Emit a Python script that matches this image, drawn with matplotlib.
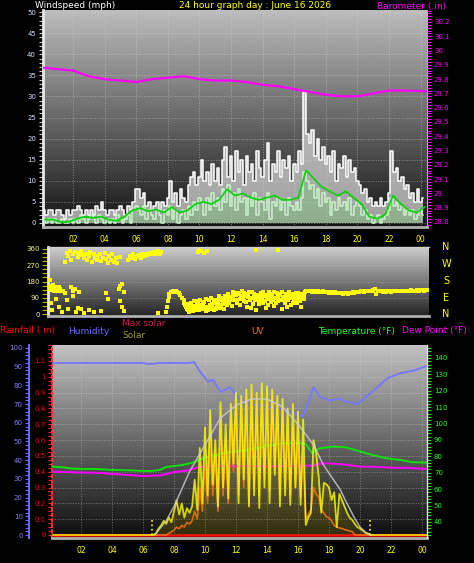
import numpy as np
import matplotlib
matplotlib.use("Agg")
import matplotlib.pyplot as plt
from matplotlib.ticker import MultipleLocator, FuncFormatter

plt.rcParams['font.family'] = ['DejaVu Sans']

W, H = 474, 563

# ---- data: wind (10 minute samples) ----
wind_t = np.arange(1, 146) / 6.0
gust = [3, 2, 3, 3, 2, 3,
        3, 2, 1, 3, 2, 3,
        3, 4, 3, 2, 3, 2,
        3, 2, 4, 3, 5, 3,
        2, 3, 3, 2, 3, 4,
        3, 2, 4, 3, 5, 8,
        8, 6, 7, 4, 5, 3,
        4, 5, 3, 5, 4, 6,
        10, 5, 7, 4, 8, 6,
        5, 9, 11, 12, 9, 11,
        15, 10, 12, 9, 14, 10,
        13, 9, 15, 18, 11, 16,
        10, 17, 12, 15, 9, 16,
        12, 14, 10, 17, 13, 11,
        15, 19, 10, 14, 12, 17,
        11, 15, 13, 16, 10, 14,
        12, 17, 14, 31, 21, 19,
        22, 16, 20, 15, 18, 14,
        16, 12, 17, 10, 14, 13,
        16, 11, 15, 12, 13, 10,
        9, 7, 8, 5, 6, 4,
        5, 4, 6, 4, 5, 7,
        17, 12, 13, 10, 11, 8,
        9, 6, 7, 5, 8, 5,
        6]
speed = [1, 0, 1, 0, 1, 0,
         0, 1, 0, 0, 1, 0,
         1, 0, 2, 1, 0, 1,
         2, 1, 0, 2, 1, 0,
         1, 0, 1, 0, 2, 1,
         0, 1, 2, 0, 3, 4,
         3, 2, 4, 1, 3, 2,
         1, 3, 2, 0, 3, 2,
         4, 1, 3, 0, 2, 3,
         1, 4, 2, 5, 3, 6,
         5, 2, 6, 3, 7, 4,
         6, 3, 8, 5, 9, 4,
         7, 3, 8, 5, 6, 2,
         6, 4, 7, 2, 6, 5,
         3, 7, 1, 5, 4, 6,
         3, 5, 2, 6, 4, 3,
         5, 3, 6, 12, 10, 8,
         9, 6, 8, 4, 7, 5,
         6, 2, 5, 3, 6, 4,
         5, 3, 6, 2, 4, 5,
         4, 2, 3, 1, 2, 0,
         1, 2, 0, 1, 2, 3,
         6, 4, 5, 3, 4, 2,
         3, 2, 3, 1, 2, 3,
         2]
avg_t = np.arange(0.25, 24.26, 0.5)
avg = [0.8, 0.8, 0.2, 0.3, 1.0, 1.5, 1.2, 1.5, 0.8, 0.5,
       1.5, 3.0, 3.5, 2.8, 3.2, 2.5, 3.8, 2.5, 3.0, 4.5,
       5.0, 4.5, 5.5, 8.0, 6.5, 7.0, 6.0, 5.5, 6.0, 6.5,
       5.5, 5.5, 6.0, 12.5, 10.5, 8.5, 7.5, 6.5, 7.5, 6.0,
       4.5, 1.5, 1.0, 2.0, 6.5, 4.5, 3.0, 2.5, 3.8]

# ---- barometer ----
baro_t = [0.1, 1, 2, 3, 4, 5, 6, 7, 8, 9, 10, 11, 12, 13, 14, 15, 16,
          17, 18, 19, 20, 21, 22, 23, 24.4]
baro = [29.88, 29.87, 29.86, 29.82, 29.80, 29.79, 29.78, 29.80, 29.81,
        29.82, 29.80, 29.79, 29.79, 29.78, 29.76, 29.75, 29.73, 29.71,
        29.69, 29.68, 29.68, 29.70, 29.72, 29.72, 29.715]

# ---- wind direction ----
dir_early = [(0.5, 150), (0.55, 140), (0.6, 155), (0.65, 135), (0.7, 148), (0.75, 160),
             (0.8, 130), (0.85, 145), (0.9, 150), (0.95, 138), (1.0, 142), (1.05, 128),
             (1.1, 150), (1.15, 135), (1.2, 140), (1.3, 125), (1.4, 130), (1.5, 118),
             (0.55, 190), (0.6, 60), (0.7, 20), (0.9, 85), (1.1, 40), (1.3, 10),
             (1.6, 75), (1.7, 25), (1.9, 150), (2.0, 130), (2.1, 140), (2.2, 10),
             (2.3, 35), (2.0, 100), (2.4, 120), (2.5, 30), (2.7, 5), (3.0, 20),
             (3.3, 10), (4.1, 115), (4.2, 85), (4.9, 140), (5.0, 155), (5.1, 165),
             (5.2, 120), (5.0, 70), (5.1, 40), (5.2, 15), (7.4, 5), (3.8, 15)]
dir_north = [(1.5, 290), (1.6, 340), (1.7, 320), (1.8, 350), (1.9, 300), (2.0, 330),
             (2.1, 345), (2.3, 315), (2.4, 340), (2.5, 350), (2.6, 325), (2.7, 310),
             (2.8, 335), (2.9, 300), (3.0, 320), (3.1, 345), (3.2, 290), (3.3, 330),
             (3.4, 310), (3.5, 300), (3.6, 320), (3.7, 335), (3.8, 295), (3.9, 310),
             (4.0, 340), (4.1, 305), (4.2, 285), (4.3, 320), (4.4, 300), (4.5, 330),
             (4.6, 290), (4.7, 310), (4.8, 285), (5.0, 315), (5.5, 300), (5.6, 320),
             (5.7, 310), (5.8, 330), (5.9, 305), (6.0, 315), (6.1, 320), (6.2, 325),
             (6.3, 310), (6.4, 330), (6.5, 320), (6.6, 335), (6.7, 325), (6.8, 330),
             (6.9, 340), (7.0, 330), (7.1, 345), (7.2, 335), (7.3, 340), (7.4, 350),
             (7.5, 335), (7.6, 345),
             (9.9, 345), (10.0, 355), (10.1, 350), (10.3, 340), (10.5, 348),
             (13.6, 352), (15.0, 352)]
dir_arc = [(7.9, 10), (7.95, 40), (8.0, 70), (8.05, 95), (8.1, 110), (8.2, 120),
           (8.3, 125), (8.4, 122), (8.5, 128), (8.6, 120), (8.7, 118), (8.8, 105),
           (8.9, 90), (9.0, 75), (9.05, 60), (9.1, 50), (9.15, 40), (9.2, 30),
           (9.25, 55), (9.3, 20)]
dir_day_t1 = np.arange(9.3, 16.75, 0.1)
dir_day_1 = [40, 25, 60, 15, 45, 30, 70, 20, 50, 35,
             65, 15, 40, 75, 30, 55, 20, 60, 45, 80,
             35, 90, 55, 100, 70, 110, 60, 95, 120, 75,
             105, 60, 115, 85, 125, 70, 100, 40, 110, 80,
             120, 55, 95, 20, 105, 75, 115, 60, 100, 35,
             85, 120, 65, 100, 45, 90, 115, 70, 105, 30,
             95, 60, 110, 80, 120, 50, 100, 75, 115, 60,
             95, 40, 105, 85, 120]
dir_day_t2 = np.arange(9.35, 16.8, 0.1)
dir_day_2 = [10, 50, 30, 70, 20, 55, 35, 80, 25, 60,
             40, 85, 20, 50, 90, 35, 75, 25, 65, 100,
             50, 75, 30, 85, 50, 95, 80, 45, 100, 115,
             80, 110, 50, 100, 90, 115, 65, 95, 120, 35,
             90, 110, 75, 100, 55, 95, 85, 120, 70, 105,
             50, 90, 110, 75, 120, 60, 95, 110, 80, 120,
             75, 95, 40, 105, 90, 110, 60, 100, 85, 115,
             70, 110, 90, 100, 125]
dir_eve_t = np.arange(16.8, 24.45, 0.1)
dir_eve = [125, 128, 126, 124, 127, 125, 122, 126, 124, 121,
           125, 123, 120, 122, 118, 121, 119, 116, 120, 117,
           114, 118, 115, 113, 117, 114, 112, 116, 118, 121,
           119, 122, 124, 121, 125, 127, 124, 126, 128, 125,
           129, 127, 132, 140, 110, 128, 125, 127, 124, 126,
           123, 125, 127, 124, 126, 128, 125, 127, 129, 126,
           128, 130, 127, 129, 126, 128, 131, 129, 127, 130,
           132, 129, 131, 133, 130, 132, 134]

# ---- bottom panel ----
rain_t = [0.13, 24.32]
rain = [0.0, 0.0]

hum_t = [0.13, 1, 2, 3, 4, 5, 6, 6.3, 6.6, 7, 8, 9, 9.3, 9.7, 10.2, 10.5, 11.0,
         11.6, 12.3, 13.0, 14.1, 15.2, 15.8, 16.3, 16.6, 17.0, 17.4, 18.0, 18.7,
         19.0, 19.8, 20.1, 20.9, 21.8, 22.6, 23.5, 24.32]
hum = [92, 92, 92, 92, 92, 92, 92, 91.5, 91.5, 92, 92, 92, 92.5, 87, 82, 83, 76.5,
       79, 72, 70, 68.5, 67, 65, 63, 70, 79, 74, 72, 73,
       71.5, 70, 72, 77.5, 84, 86.5, 88, 90.5]

temp_t = [0.13, 0.7, 1.5, 2, 3, 4, 5, 6, 6.5, 7.1, 7.5, 8.6, 9.2, 9.9, 10.7,
          11.8, 12.5, 13.3, 14.0, 15.1, 16.2, 16.5, 16.9, 17.4, 18.3, 19.1,
          20.0, 20.8, 21.7, 22.6, 23.4, 24.32]
temp = [73.7, 73.4, 72.5, 72.3, 72.3, 71.7, 71.5, 71.1, 71.0, 71.7, 73.5, 74.8,
        76.2, 78.8, 80.8, 82.9, 83.5, 84.9, 86.5, 88, 88, 87.5, 82, 84.9, 85.9,
        85.5, 83, 80.8, 78.8, 77.8, 76.4, 76.2]

dew_t = [0.13, 1, 2, 3, 4, 5, 6, 7.1, 8.0, 8.8, 9.7, 10.7, 12, 13, 14, 15, 16,
         17, 17.6, 18.3, 19, 20, 21, 21.9, 23, 24.32]
dew = [70.7, 70.4, 70.1, 70.0, 69.3, 68.7, 68.0, 68.3, 70.4, 71.3, 73.7, 74.3,
       74, 74.2, 73.8, 74.2, 74, 74.5, 75.8, 75.6, 75, 73.7, 73.6, 73.1, 73, 72.3]

solar_t = np.arange(6.5, 20.84, 1 / 6.0)
solar = [0, 0, 10,
         40, 60, 90, 70, 110, 80,
         150, 220, 130, 200, 110, 170,
         140, 180, 350, 160, 550, 200,
         680, 250, 790, 320, 600, 180,
         840, 300, 700, 230, 830, 450,
         900, 200, 880, 350, 920, 180,
         950, 250, 900, 170, 960, 300,
         940, 200, 920, 380, 880, 180,
         860, 250, 800, 190, 830, 300,
         780, 190, 730, 63, 110, 140,
         600, 520, 370, 140, 330, 320,
         300, 220, 270, 50, 260, 220,
         180, 140, 110, 95, 70, 50,
         40, 30, 15, 10, 0, 0]
uv = [0, 0, 0,
      0, 0, 0, 0, 10, 20,
      30, 50, 40, 60, 50, 80,
      70, 90, 150, 100, 300, 150,
      450, 200, 600, 250, 500, 150,
      700, 250, 600, 200, 750, 400,
      850, 250, 850, 300, 880, 200,
      900, 300, 870, 250, 900, 350,
      880, 280, 870, 400, 820, 250,
      800, 300, 750, 250, 700, 300,
      600, 240, 500, 95, 130, 160,
      300, 260, 240, 160, 140, 115,
      110, 90, 60, 50, 45, 40,
      35, 30, 25, 20, 0, 0,
      0, 0, 0, 0, 0, 0]
night_t = [0.13, 24.32]
maxsolar_t = [6.75, 7.5, 8, 9, 10, 11, 12, 13, 14, 15, 16, 17, 17.6, 18, 18.7,
              19, 19.6, 20, 20.4, 20.7]
maxsolar = [0, 90, 180, 400, 570, 740, 820, 860, 860, 810, 700, 570, 450, 390,
            290, 230, 115, 50, 12, 0]
sun_events = [6.56, 20.62]

hours = list(range(2, 25, 2))
hour_labels = ['%02d' % (h % 24) for h in hours]


def rect(x0, y0, x1, y1):
    return [x0 / W, 1 - y1 / H, (x1 - x0) / W, (y1 - y0) / H]


def backdrop(ax, top, bottom):
    g = np.linspace(top, bottom, 256).reshape(-1, 1)
    ax.imshow(g, extent=[0, 1, 0, 1], transform=ax.transAxes, aspect='auto',
              cmap='gray', vmin=0, vmax=1, zorder=0, interpolation='bilinear')


def fmt_g(v, pos):
    return '%g' % round(v, 2)


fig = plt.figure(figsize=(W / 100, H / 100), dpi=100, facecolor='black')

# ================= top: wind + barometer =================
ax1 = fig.add_axes(rect(43, 10, 427, 227))
backdrop(ax1, 0.74, 0.08)
ax1.fill_between(wind_t, speed, gust, step='mid', color='#dcdcdc', alpha=0.7,
                 lw=0, zorder=2)
ax1.plot(wind_t, gust, color='white', lw=1.1, drawstyle='steps-mid', zorder=3)
ax1.fill_between(wind_t, 0, speed, step='mid', color='#c0eec0', alpha=0.7,
                 lw=0, zorder=3)
ax1.plot(wind_t, speed, color='#c8f4c8', lw=1.1, drawstyle='steps-mid', zorder=4)
ax1.plot(avg_t, avg, color='#10d010', lw=1.3, zorder=5)
ax1.set_xlim(0.10, 24.40)
ax1.set_ylim(-0.95, 50.5)
ax1.set_yticks(range(0, 51, 5))
ax1.yaxis.set_minor_locator(MultipleLocator(1))
ax1.set_xticks(hours)
ax1.set_xticklabels(hour_labels)
ax1.tick_params(axis='y', which='both', colors='#c8c8c8', labelcolor='#d0e0ff',
                labelsize=5, length=3, width=0.8, pad=2)
ax1.tick_params(axis='x', colors='#ffff00', labelsize=5.5, length=0, pad=6)
ax1.grid(True, color='#e0e0e0', ls=':', lw=0.7, alpha=0.45)
ax1.spines['top'].set_visible(False)
ax1.spines['left'].set_color('#e8e8e8')
ax1.spines['left'].set_linewidth(2)
ax1.spines['bottom'].set_color('#b0b0b0')
ax1.spines['bottom'].set_linewidth(2)
ax1.spines['right'].set_color('#c0c0c0')
ax1.spines['right'].set_linewidth(0.8)

axb = ax1.twinx()
axb.plot(baro_t, baro, color='#ff00ff', lw=1.6, zorder=6)
axb.set_ylim(28.765, 30.284)
axb.set_yticks(np.round(np.arange(28.8, 30.21, 0.1), 1))
axb.yaxis.set_major_formatter(FuncFormatter(fmt_g))
axb.yaxis.set_minor_locator(MultipleLocator(0.02))
axb.tick_params(axis='y', which='both', colors='#ff00ff', labelsize=5, length=3,
                width=0.8, pad=2)
for s in ['top', 'left', 'bottom', 'right']:
    axb.spines[s].set_visible(False)

fig.text(35 / W, 1 - 6 / H, 'Windspeed (mph)', color='white', fontsize=6.5,
         ha='left', va='center')
fig.text(255 / W, 1 - 6 / H, '24 hour graph day : June 16 2026', color='#ffff00',
         fontsize=6.5, ha='center', va='center')
fig.text(446 / W, 1 - 6 / H, 'Barometer (.in)', color='#ff00ff', fontsize=6.5,
         ha='right', va='center')

# ================= middle: wind direction =================
ax2 = fig.add_axes(rect(48, 247, 429, 316))
backdrop(ax2, 0.80, 0.14)
dir_t = ([p[0] for p in dir_early] + [p[0] for p in dir_north] + [p[0] for p in dir_arc]
         + list(dir_day_t1) + list(dir_day_t2) + list(dir_eve_t))
dir_v = ([p[1] for p in dir_early] + [p[1] for p in dir_north] + [p[1] for p in dir_arc]
         + dir_day_1 + dir_day_2 + dir_eve)
ax2.scatter(dir_t, dir_v, s=6.5, marker='s', c='#ffff00', linewidths=0, zorder=3)
ax2.set_xlim(0.42, 24.53)
ax2.set_ylim(-11, 371)
ax2.set_yticks([0, 90, 180, 270, 360])
ax2.yaxis.set_minor_locator(MultipleLocator(22.5))
ax2.set_xticks([])
ax2.tick_params(axis='y', which='both', colors='#b8b800', labelcolor='#f4f488',
                labelsize=5, length=4, width=0.8, pad=2)
for y in [90, 180, 270]:
    ax2.axhline(y, color='#e0e0e0', ls=':', lw=0.7, alpha=0.35, zorder=1)
ax2.spines['right'].set_visible(False)
ax2.spines['left'].set_color('#e8e8e8')
ax2.spines['left'].set_linewidth(2)
ax2.spines['bottom'].set_color('#b0b0b0')
ax2.spines['bottom'].set_linewidth(2)
ax2.spines['top'].set_color('#d0d0d0')
ax2.spines['top'].set_linewidth(1)
for lab, yy in zip(['N', 'W', 'S', 'E', 'N'], [247, 264, 281, 298, 314]):
    fig.text(446 / W, 1 - yy / H, lab, color='#ffff00', fontsize=7,
             ha='center', va='center')

# ================= bottom: rain / humidity / solar / temp =================
ax3 = fig.add_axes(rect(52, 345, 427, 538))
backdrop(ax3, 0.76, 0.05)
ax3.plot(rain_t, rain, color='#ff0000', lw=1.8, zorder=3)
ax3.set_xlim(0.13, 24.32)
ax3.set_ylim(-0.019, 1.201)
ax3.set_yticks(np.round(np.arange(0, 1.11, 0.1), 1))
ax3.yaxis.set_major_formatter(FuncFormatter(fmt_g))
ax3.yaxis.set_minor_locator(MultipleLocator(0.025))
ax3.set_xticks(hours)
ax3.set_xticklabels(hour_labels)
ax3.tick_params(axis='y', which='both', colors='#ff2020', labelcolor='#ff0000',
                labelsize=5, length=3, width=0.8, pad=1.5)
ax3.tick_params(axis='x', colors='#ffff00', labelsize=5.5, length=0, pad=6)
ax3.grid(True, color='#e0e0e0', ls=':', lw=0.7, alpha=0.4)
ax3.spines['top'].set_visible(False)
ax3.spines['right'].set_visible(False)
ax3.spines['left'].set_color('#ff3030')
ax3.spines['left'].set_linestyle(':')
ax3.spines['left'].set_linewidth(1.5)
ax3.spines['bottom'].set_color('#b0b0b0')
ax3.spines['bottom'].set_linewidth(2)

axh = ax3.twinx()
axh.plot(hum_t, hum, color='#7878ff', lw=1.4)
axh.set_ylim(-1.6, 101.6)
axh.yaxis.tick_left()
axh.spines['left'].set_visible(True)
axh.spines['left'].set_position(('axes', (29 - 52) / 375))
axh.spines['left'].set_color('#6868ff')
axh.spines['left'].set_linewidth(1.5)
for s in ['top', 'right', 'bottom']:
    axh.spines[s].set_visible(False)
axh.set_yticks(range(0, 101, 10))
axh.yaxis.set_minor_locator(MultipleLocator(2))
axh.tick_params(axis='y', which='both', colors='#6868ff', labelcolor='#8080ff',
                labelsize=5, length=3, width=0.8, pad=1.5)

axt = ax3.twinx()
axt.plot(temp_t, temp, color='#10e010', lw=1.4)
axt.plot(dew_t, dew, color='#ff00ff', lw=1.4)
axt.set_ylim(30.2, 147.9)
axt.set_yticks(range(40, 141, 10))
axt.yaxis.set_minor_locator(MultipleLocator(2))
axt.tick_params(axis='y', which='both', colors='#20e020', labelcolor='#20ff20',
                labelsize=5, length=3, width=0.8, pad=2)
for s in ['top', 'left', 'bottom']:
    axt.spines[s].set_visible(False)
axt.spines['right'].set_color('#e0e0e0')
axt.spines['right'].set_linewidth(1)

axs = ax3.twinx()
axs.set_ylim(-19, 1201)
axs.fill_between(solar_t, 0, solar, color='#ffe000', alpha=0.15, lw=0)
axs.plot(solar_t, uv, color='#f07010', lw=1.2, alpha=0.9)
axs.plot([night_t[0]] + list(solar_t) + [night_t[1]], [0] + solar + [0],
         color='#ffff00', lw=1.3, alpha=0.8)
axs.plot(maxsolar_t, maxsolar, color='#d0d0d0', lw=1.1, alpha=0.8)
axs.vlines(sun_events, 0, 95, colors='#ffff00', linestyles=':', lw=1.2)
axs.axis('off')

fig.text(0 / W, 1 - 331 / H, 'Rainfall (.in)', color='#ff0000', fontsize=6.5,
         ha='left', va='center')
fig.text(68 / W, 1 - 331 / H, 'Humidity', color='#7070ff', fontsize=6.5,
         ha='left', va='center')
fig.text(122 / W, 1 - 324 / H, 'Max solar', color='#c8204a', fontsize=6.5,
         ha='left', va='center')
fig.text(122 / W, 1 - 336 / H, 'Solar', color='#a0a020', fontsize=6.5,
         ha='left', va='center')
fig.text(251 / W, 1 - 331 / H, 'UV', color='#f07820', fontsize=6.5,
         ha='left', va='center')
fig.text(318 / W, 1 - 331 / H, 'Temperature (\u00b0F)', color='#20ff40', fontsize=6.5,
         ha='left', va='center')
fig.text(402 / W, 1 - 331 / H, 'Dew Point (\u00b0F)', color='#ff00ff', fontsize=6.5,
         ha='left', va='center')

fig.savefig('out.png', dpi=100, facecolor='black')
